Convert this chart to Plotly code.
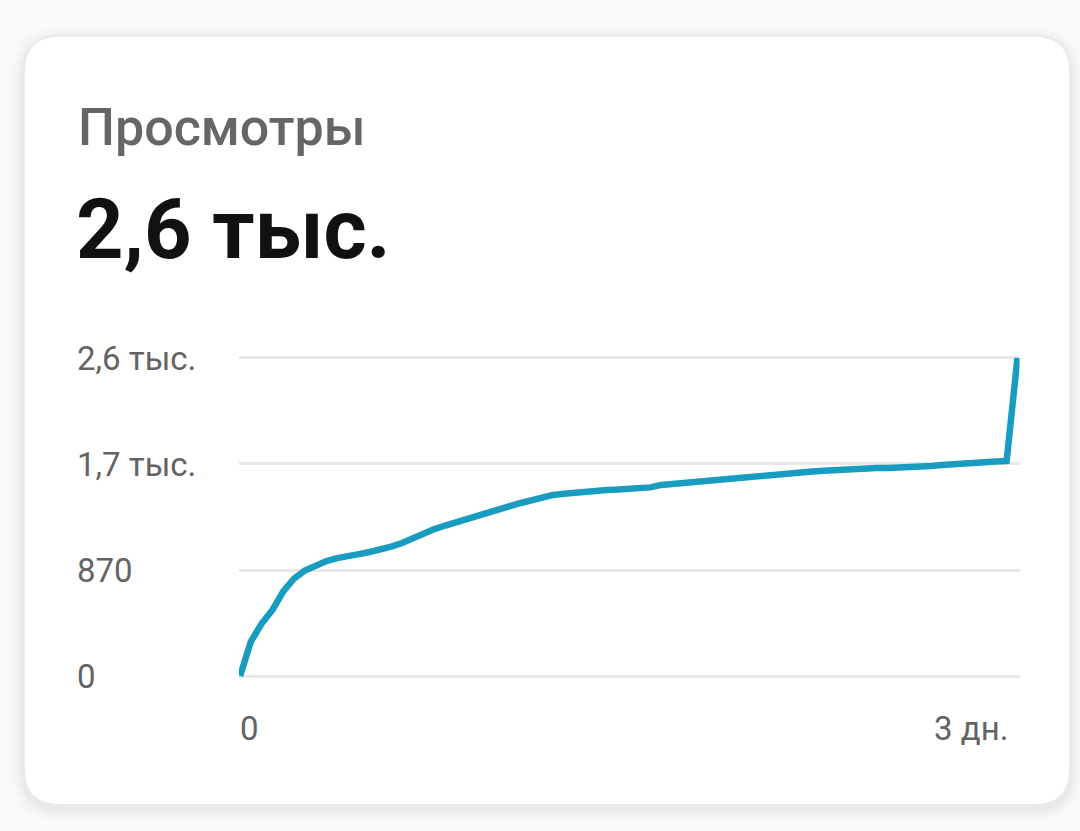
import plotly.graph_objects as go

# ---- data ----
hours = list(range(73))
views = [0, 283, 431, 542, 694, 800, 866, 911, 944, 968, 990, 1000, 1018, 1034,
         1062, 1092, 1133, 1169, 1206, 1235, 1264, 1289, 1316, 1342, 1371, 1395,
         1420, 1445, 1465, 1486, 1496, 1506, 1515, 1521, 1526, 1530, 1535, 1541,
         1548, 1568, 1576, 1587, 1596, 1603, 1609, 1617, 1629, 1640, 1650, 1658,
         1666, 1670, 1674, 1679, 1684, 1691, 1698, 1705, 1707, 1707, 1708, 1709,
         1711, 1715, 1724, 1732, 1740, 1747, 1753, 1758, 1761, 1765, 2610]
y_tickvals = [0, 870, 1740, 2610]
y_ticktext = ["0", "870", "1,7 тыс.", "2,6 тыс."]
x_start_tick = [0]
x_start_text = ["0"]
x_end_tick = [72]
x_end_text = ["3 дн."]
title_text = "Просмотры"
total_text = "2,6 тыс."

W, H = 1080, 831
FONT = "Roboto"


def px(x):
    return x / W


def py(y):
    return 1 - y / H


def rrect(x0, y0, x1, y1, r):
    X0, X1 = px(x0), px(x1)
    Y0, Y1 = py(y0), py(y1)
    rx, ry = r / W, r / H
    return (f"M {X0 + rx},{Y0} L {X1 - rx},{Y0} Q {X1},{Y0} {X1},{Y0 - ry} "
            f"L {X1},{Y1 + ry} Q {X1},{Y1} {X1 - rx},{Y1} "
            f"L {X0 + rx},{Y1} Q {X0},{Y1} {X0},{Y1 + ry} "
            f"L {X0},{Y0 - ry} Q {X0},{Y0} {X0 + rx},{Y0} Z")


fig = go.Figure()
fig.add_trace(go.Scatter(x=hours, y=views, mode="lines",
                         line=dict(color="#189dc0", width=6.5, shape="linear"),
                         hoverinfo="skip", showlegend=False))
fig.add_trace(go.Scatter(x=[hours[0], hours[-1]], y=[None, None], xaxis="x2",
                         mode="lines", hoverinfo="skip", showlegend=False))

shapes = []
# soft shadow
for grow, op in [(12, 0.008), (9, 0.012), (6, 0.016), (3, 0.022)]:
    shapes.append(dict(type="path", xref="paper", yref="paper", layer="below",
                       path=rrect(24 - grow, 36 - grow + 3, 1070 + grow, 805 + grow + 4, 36 + grow),
                       fillcolor=f"rgba(0,0,0,{op})", line=dict(width=0)))
shapes.append(dict(type="path", xref="paper", yref="paper", layer="below",
                   path=rrect(24, 36, 1070, 805, 36),
                   fillcolor="white", line=dict(color="#e8e8e8", width=1.5)))

# plot area: x 239..1019.6 px ; y: value 0 -> 676 px, 2610 -> 358 px
xrange = [-0.1, 72.2]
tickfont = dict(size=33, color="#636363", family=FONT)
fig.update_layout(
    width=W, height=H,
    margin=dict(l=0, r=0, t=0, b=0),
    paper_bgcolor="#f9f9f9",
    plot_bgcolor="rgba(0,0,0,0)",
    font=dict(family=FONT, color="#636363"),
    shapes=shapes,
    xaxis=dict(domain=[px(239), px(1019.6)], range=xrange, anchor="free",
               position=py(706), showgrid=False, zeroline=False, showline=False,
               tickmode="array", tickvals=x_start_tick, ticktext=x_start_text,
               ticks="", ticklabelposition="outside right", tickfont=tickfont),
    xaxis2=dict(domain=[px(239), px(1019.6)], range=xrange, overlaying="x",
                anchor="free", position=py(706), side="bottom",
                showgrid=False, zeroline=False, showline=False,
                tickmode="array", tickvals=x_end_tick, ticktext=x_end_text,
                ticks="", ticklabelposition="outside left", ticklabelshift=-9,
                tickfont=tickfont),
    yaxis=dict(domain=[py(700.4), py(333.6)], range=[-200, 2810],
               anchor="free", position=px(73), side="left",
               tickmode="array", tickvals=y_tickvals, ticktext=y_ticktext,
               ticks="", ticklabelposition="inside",
               showgrid=True, gridcolor="#e8e8e8", gridwidth=3,
               zeroline=False, showline=False, tickfont=tickfont),
    annotations=[
        dict(text=title_text, xref="paper", yref="paper", x=px(76), y=py(127),
             xanchor="left", yanchor="middle", showarrow=False,
             font=dict(size=52, color="#666666", family=FONT, weight=500)),
        dict(text=f"<b>{total_text}</b>", xref="paper", yref="paper", x=px(74), y=py(229),
             xanchor="left", yanchor="middle", showarrow=False,
             font=dict(size=83, color="#111111", family=FONT)),
    ],
)

fig.write_html("out.html", config={"displayModeBar": False},
               post_script="document.body.style.margin='0';")
